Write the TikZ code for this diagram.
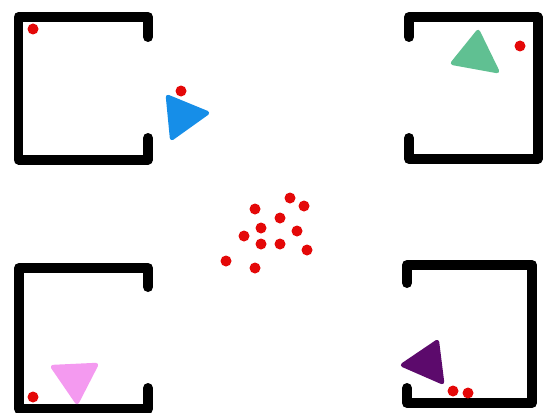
\documentclass[tikz,border=0pt]{standalone}
\usepackage{xcolor}
\usepackage{tikz}

\definecolor{agentblue}{RGB}{22,142,232}
\definecolor{agentgreen}{RGB}{96,192,146}
\definecolor{agentpink}{RGB}{244,154,240}
\definecolor{agentpurple}{RGB}{92,10,108}
\definecolor{foodred}{RGB}{228,8,8}

\begin{document}
\begin{tikzpicture}[
  x=0.02cm, y=-0.02cm,
  wall/.style={line width=0.2cm, line cap=round, line join=round},
  food/.style={fill=foodred},
  agent/.style={line width=2.5pt, line join=round},
]
  \useasboundingbox (0,0) rectangle (543,412);

  % rooms, open on the side facing the middle
  \draw[wall] (148,37) -- (148,17) -- (18.5,17) -- (18.5,159.5) -- (148,159.5) -- (148,138);
  \draw[wall] (409,37) -- (409,17) -- (537.5,17) -- (537.5,159) -- (409,159) -- (409,138);
  \draw[wall] (148,287) -- (148,268) -- (19,268) -- (19,409) -- (148,409) -- (148,388);
  \draw[wall] (407,283) -- (407,265) -- (532,265) -- (532,403) -- (407,403) -- (407,388);

  % agents
  \filldraw[agent, agentblue]   (168,97) -- (207,113) -- (172,138) -- cycle;
  \filldraw[agent, agentgreen]  (478,32) -- (453,63) -- (497,71) -- cycle;
  \filldraw[agent, agentpink]   (53,367) -- (96,365) -- (77,402) -- cycle;
  \filldraw[agent, agentpurple] (437,342) -- (403,365) -- (442,382) -- cycle;

  % food
  \foreach \p in {(33,29),(181,91),(520,46),(33,397),(453,391),(468,393),
                  (290,198),(304,206),(255,209),(280,218),(261,228),(297,231),
                  (244,236),(261,244),(280,244),(307,250),(226,261),(255,268)}
    \fill[food] \p circle (5.5);
\end{tikzpicture}
\end{document}
